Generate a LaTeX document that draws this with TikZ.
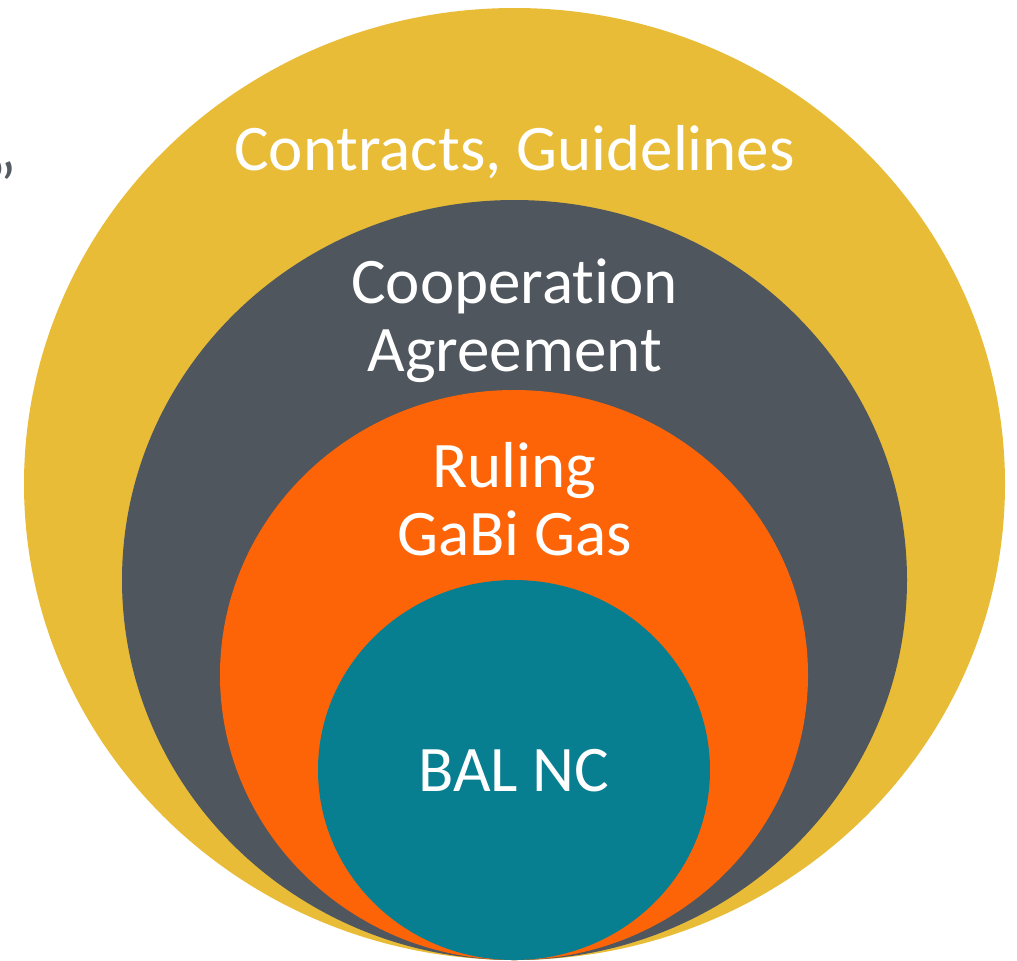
\documentclass[tikz,border=0pt]{standalone}
\usepackage{fontspec}
\setmainfont{Carlito}[Ligatures={NoCommon}]
\usepackage{tikz}
\usetikzlibrary{positioning}

\definecolor{ringgold}{HTML}{E9BC38}
\definecolor{ringgray}{HTML}{4F565E}
\definecolor{ringorange}{HTML}{FD6408}
\definecolor{ringteal}{HTML}{087F91}
\definecolor{quotegray}{HTML}{555B62}

\begin{document}
\begin{tikzpicture}[x=0.5pt, y=-0.5pt,
    lbl/.style={text=white, font=\fontsize{32.5}{34}\selectfont, align=center, inner sep=0pt, anchor=base}]
\useasboundingbox (0,0) rectangle (1017,960);
% nested rings, all touching at the bottom
\fill[ringgold]   (514.5,484) ellipse [x radius=490.5, y radius=476];
\fill[ringgray]   (514.5,580) ellipse [x radius=392.5, y radius=380];
\fill[ringorange] (514,675)   ellipse [x radius=294,   y radius=285];
\fill[ringteal]   (514,770)   ellipse [x radius=196,   y radius=190];
% labels (base = last line)
\node[lbl] (contracts) at (514.5,170) {Contracts, Guidelines};
\node[lbl] (coop)      at (514.5,371) {Cooperation\\Agreement};
\node[lbl] (ruling)    at (514.5,555) {Ruling\\GaBi Gas};
\node[lbl] (bal)       at (514,791)   {BAL NC};
\node[text=quotegray, font=\fontsize{32.5}{34}\selectfont, inner sep=0pt, anchor=base east] (quote) at (17,207) {”};
\end{tikzpicture}
\end{document}
